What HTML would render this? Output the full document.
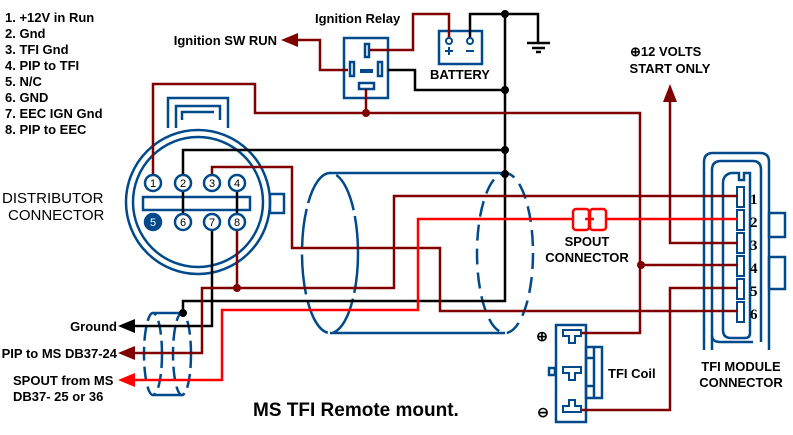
<!DOCTYPE html>
<html><head><meta charset="utf-8"><style>
html,body{margin:0;padding:0;background:#fff;width:793px;height:435px;overflow:hidden}
svg{display:block}
text{font-family:"Liberation Sans",sans-serif;font-weight:bold;fill:#000}
</style></head><body>
<svg width="793" height="435" viewBox="0 0 793 435" xmlns="http://www.w3.org/2000/svg">
<g font-size="13">
<text x="5" y="22">1. +12V in Run</text>
<text x="5" y="38">2. Gnd</text>
<text x="5" y="54">3. TFI Gnd</text>
<text x="5" y="70">4. PIP to TFI</text>
<text x="5" y="86">5. N/C</text>
<text x="5" y="102">6. GND</text>
<text x="5" y="118">7. EEC IGN Gnd</text>
<text x="5" y="134">8. PIP to EEC</text>
<text x="315" y="23">Ignition Relay</text>
<text x="277" y="45" text-anchor="end">Ignition SW RUN</text>
<text x="460" y="79" text-anchor="middle">BATTERY</text>
<text x="630" y="56">⊕12 VOLTS</text>
<text x="670" y="73" text-anchor="middle">START ONLY</text>
<text x="587" y="246" text-anchor="middle">SPOUT</text>
<text x="587" y="262" text-anchor="middle">CONNECTOR</text>
<text x="608" y="378">TFI Coil</text>
<text x="741" y="371" text-anchor="middle">TFI MODULE</text>
<text x="741" y="387" text-anchor="middle">CONNECTOR</text>
<text x="117" y="331" text-anchor="end">Ground</text>
<text x="117" y="358" text-anchor="end">PIP to MS DB37-24</text>
<text x="13" y="385">SPOUT from MS</text>
<text x="13" y="401">DB37- 25 or 36</text>
</g>
<text x="2" y="203" font-size="15" style="font-weight:normal">DISTRIBUTOR</text>
<text x="8" y="220" font-size="15" style="font-weight:normal">CONNECTOR</text>
<text x="253" y="416" font-size="19">MS TFI Remote mount.</text>

<g fill="none" stroke="#004a8c" stroke-width="2.5">
<path d="M330 173 L505 173 M330 333 L505 333"/>
<ellipse cx="330" cy="253" rx="28" ry="80" stroke-dasharray="40 6"/>
<ellipse cx="505" cy="253" rx="28" ry="80" stroke-dasharray="16 8"/>
<path d="M153 313 L182 313 M153 395 L182 395"/>
<ellipse cx="153" cy="354" rx="9" ry="41" stroke-dasharray="14 6"/>
<ellipse cx="182" cy="354" rx="9" ry="41" stroke-dasharray="14 6"/>
<circle cx="198" cy="202" r="72"/>
<circle cx="198" cy="202" r="65"/>
<path d="M168 128 V98 H228 V128 M176 128 V106 H220 V120 M182 120 V112 H214"/>
<rect x="143" y="197" width="107" height="13"/>
<rect x="270" y="194" width="14" height="19"/>
<rect x="344" y="38" width="44" height="60"/>
<rect x="365" y="44" width="4" height="13"/>
<rect x="350" y="62" width="4" height="14"/>
<rect x="378" y="62" width="4" height="14"/>
<rect x="359" y="83" width="15" height="6"/>
<rect x="439" y="31" width="43" height="33"/>
<rect x="556" y="325" width="30" height="97"/>
<rect x="586" y="347" width="16" height="51"/>
<path d="M594 347 V398 M587 358 H594 M587 386 H594"/>
<rect x="549" y="368" width="6" height="7"/>
<path d="M704 350 V162 Q704 153 713 153 H760 Q769 153 769 162 V350"/>
<path d="M712 350 V170 Q712 161 721 161 H753 Q761 161 761 170 V342"/>
<path d="M753 342 H720 Q712 342 712 335"/>
<path d="M750 333 V173 H744 V180 H739 V173 H731 Q723 175 723 183 V330 Q723 338 731 338 H745 Q750 338 750 333"/>
<rect x="769" y="213" width="16" height="24"/>
<rect x="769" y="257" width="16" height="32"/>
</g>
<g fill="#004a8c">
<rect x="360" y="69" width="13" height="4"/>
</g>
<g fill="#fff" stroke="#004a8c" stroke-width="2">
<rect x="737" y="187" width="7" height="20"/>
<rect x="737" y="210" width="7" height="20"/>
<rect x="737" y="233" width="7" height="20"/>
<rect x="737" y="256" width="7" height="20"/>
<rect x="737" y="279" width="7" height="20"/>
<rect x="737" y="302" width="7" height="20"/>
</g>
<g font-size="15">
<text x="750" y="204" style="font-family:'Liberation Serif',serif">1</text>
<text x="750" y="227" style="font-family:'Liberation Serif',serif">2</text>
<text x="750" y="250" style="font-family:'Liberation Serif',serif">3</text>
<text x="750" y="273" style="font-family:'Liberation Serif',serif">4</text>
<text x="750" y="296" style="font-family:'Liberation Serif',serif">5</text>
<text x="750" y="319" style="font-family:'Liberation Serif',serif">6</text>
</g>

<g fill="none" stroke-width="2.5">
<g stroke="#000">
<path d="M470 40 V14 H538 V42"/>
<path d="M505 14 V301 H183 V313"/>
<path d="M388 70 H415 V90 H505"/>
<path d="M183 183 V150 H505"/>
<path d="M183 183 V222 M237 183 V222"/>
<path d="M212 222 V326 H135"/>
</g>
<g stroke="#800000">
<path d="M298 40 H320 V70 H348"/>
<path d="M370 50 H413 V14 H449 V40"/>
<path d="M366 89 V113"/>
<path d="M153 180 V84 H255 V113 H640 V333 H582"/>
<path d="M212 183 V167 H292 V248 H440 V311 H738"/>
<path d="M237 222 V288"/>
<path d="M135 353 H202 V288 H394 V196 H738"/>
<path d="M670 100 V243 H738"/>
<path d="M640 265 H738"/>
<path d="M738 288 H670 V410 H582"/>
</g>
<g stroke="#f00">
<path d="M135 380 H222 V310 H418 V219 H738"/>
</g>
</g>
<g stroke="#000" stroke-width="2.5"><path d="M527 43 H550 M532 48 H545 M536 52 H541"/></g>
<g fill="#000">
<circle cx="505" cy="14" r="4"/><circle cx="505" cy="90" r="4"/>
<circle cx="505" cy="150" r="4"/><circle cx="505" cy="174" r="4"/>
<circle cx="183" cy="313" r="4"/>
</g>
<g fill="#800000">
<circle cx="366" cy="113" r="4"/><circle cx="237" cy="288" r="4"/><circle cx="641" cy="265" r="4"/>
<path d="M281 40 L298 33 V47 Z"/>
<path d="M670 84 L663 102 H677 Z"/>
<path d="M118 353 L135 346 V360 Z"/>
</g>
<path d="M118 326 L135 319 V333 Z" fill="#000"/>
<path d="M118 380 L135 373 V387 Z" fill="#f00"/>
<g stroke="#004a8c" stroke-width="2" fill="#fff">
<circle cx="449" cy="41" r="3"/><circle cx="470" cy="41" r="3"/>
<path d="M445 51 H453 M449 47 V55 M466 51 H474" fill="none"/>
</g>
<g fill="#fff" stroke="#f00" stroke-width="2.5">
<rect x="573" y="209" width="16" height="21" rx="3"/>
<rect x="590" y="209" width="16" height="21" rx="3"/>
</g>
<path d="M585 219 H594" stroke="#f00" stroke-width="2.5"/>
<g fill="#fff" stroke="#004a8c" stroke-width="2.5">
<circle cx="153" cy="183" r="8"/><circle cx="183" cy="183" r="8"/>
<circle cx="212" cy="183" r="8"/><circle cx="237" cy="183" r="8"/>
<circle cx="153" cy="222" r="8" fill="#004a8c"/><circle cx="183" cy="222" r="8"/>
<circle cx="212" cy="222" r="8"/><circle cx="237" cy="222" r="8"/>
</g>
<g font-size="11" text-anchor="middle">
<text x="153" y="187" style="font-weight:normal">1</text><text x="183" y="187" style="font-weight:normal">2</text>
<text x="212" y="187" style="font-weight:normal">3</text><text x="237" y="187" style="font-weight:normal">4</text>
<text x="153" y="226" style="font-weight:normal;fill:#fff">5</text><text x="183" y="226" style="font-weight:normal">6</text>
<text x="212" y="226" style="font-weight:normal">7</text><text x="237" y="226" style="font-weight:normal">8</text>
</g>
<g fill="#fff" stroke="#004a8c" stroke-width="2">
<path d="M563 330 H581 V336 H575 V343 H569 V336 H563 Z"/>
<path d="M563 367 H581 V373 H575 V380 H569 V373 H563 Z"/>
<path d="M563 412 H581 V406 H575 V400 H569 V406 H563 Z"/>
</g>
<text x="542" y="341" font-size="14" text-anchor="middle">⊕</text>
<text x="543" y="417" font-size="14" text-anchor="middle">⊖</text>
</svg>
</body></html>
